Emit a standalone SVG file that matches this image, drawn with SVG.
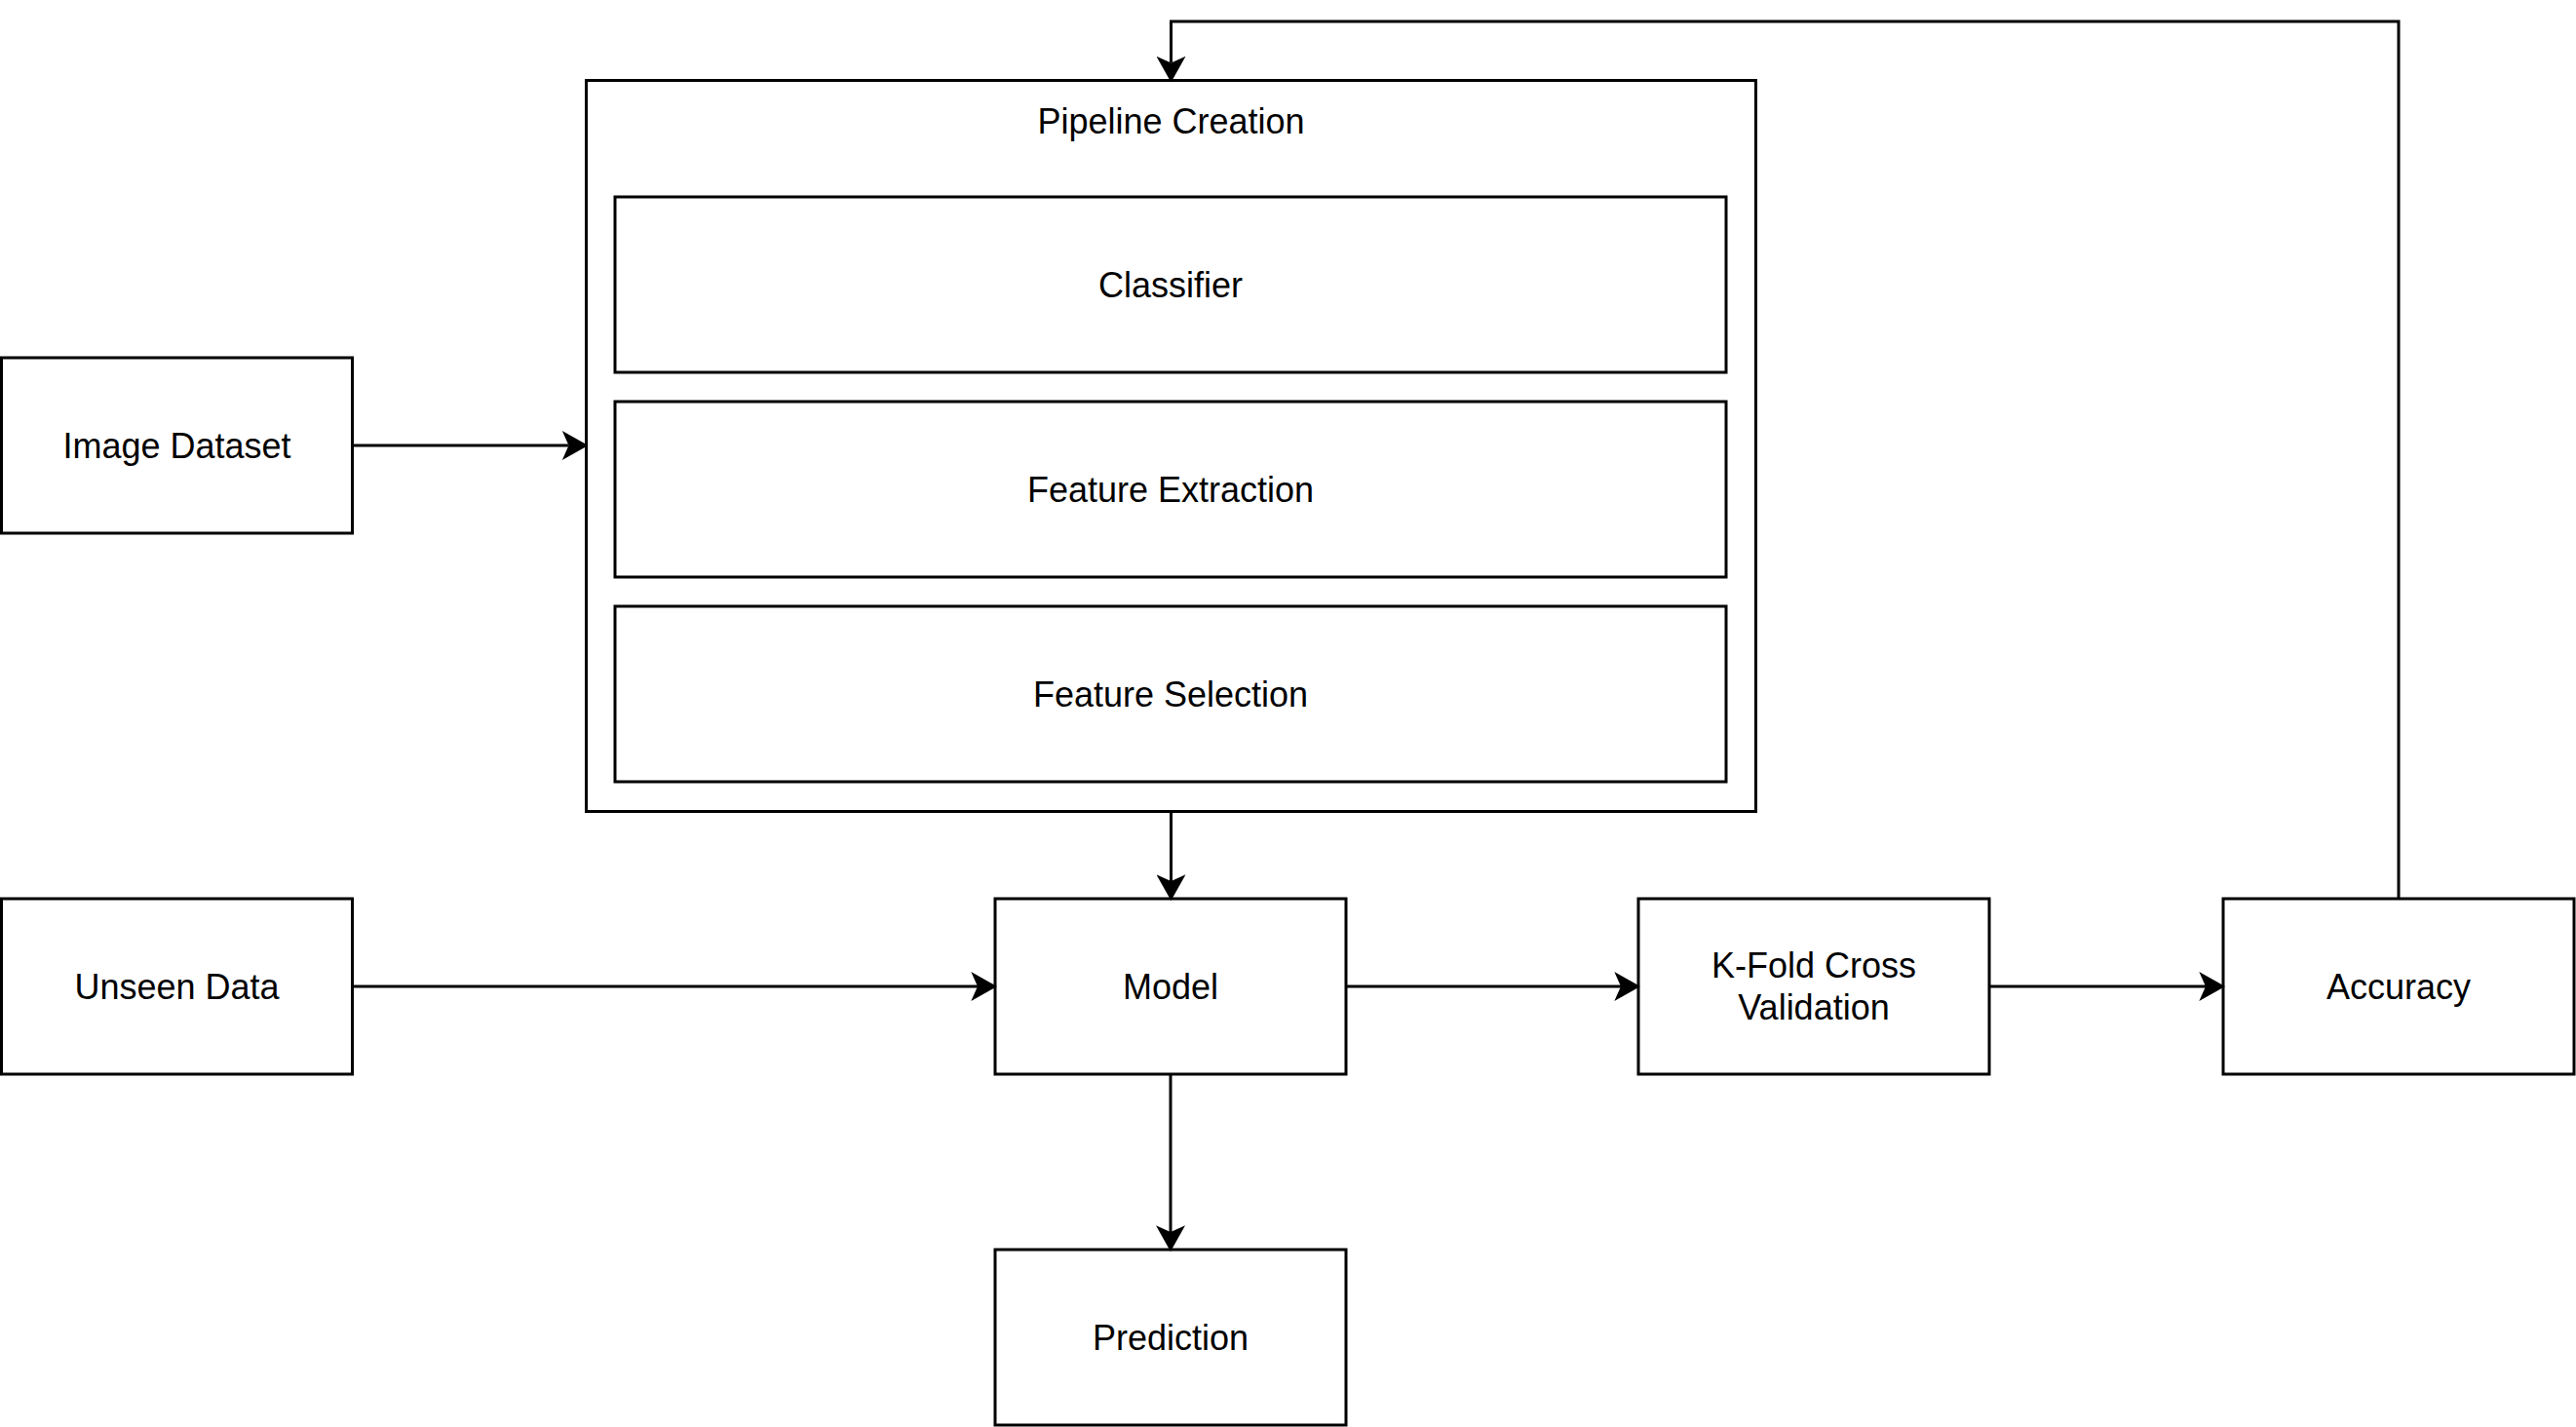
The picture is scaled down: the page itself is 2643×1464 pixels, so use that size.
<svg xmlns="http://www.w3.org/2000/svg" width="2643" height="1464" viewBox="0 0 2643 1464">
<style>
.box{fill:#ffffff;stroke:#000000;stroke-width:3}
.lbl{font-family:"Liberation Sans",Arial,Helvetica,sans-serif;font-size:36px;fill:#000000;text-anchor:middle}
.edge{fill:none;stroke:#000000;stroke-width:3}
</style>
<defs>
<marker id="arr" markerUnits="userSpaceOnUse" markerWidth="30" markerHeight="30" viewBox="0 0 24 27" refX="6" refY="13.5" orient="auto">
<path d="M0,0 L24,13.5 L0,27 L6,13.5 Z" fill="#000000"/>
</marker>
</defs>
<rect width="2643" height="1464" fill="#ffffff"/>
<g id="pipeline">
<rect class="box" x="601.5" y="82.5" width="1200" height="750"/>
<text class="lbl" x="1201.5" y="137">Pipeline Creation</text>
</g>
<g id="classifier">
<rect class="box" x="631" y="202" width="1140" height="180"/>
<text class="lbl" x="1201" y="305">Classifier</text>
</g>
<g id="feature-extraction">
<rect class="box" x="631" y="412" width="1140" height="180"/>
<text class="lbl" x="1201" y="515">Feature Extraction</text>
</g>
<g id="feature-selection">
<rect class="box" x="631" y="622" width="1140" height="180"/>
<text class="lbl" x="1201" y="725">Feature Selection</text>
</g>
<g id="image-dataset">
<rect class="box" x="1.5" y="367" width="360" height="180"/>
<text class="lbl" x="181.5" y="470">Image Dataset</text>
</g>
<g id="unseen-data">
<rect class="box" x="1.5" y="922" width="360" height="180"/>
<text class="lbl" x="181.5" y="1025">Unseen Data</text>
</g>
<g id="model">
<rect class="box" x="1021" y="922" width="360" height="180"/>
<text class="lbl" x="1201" y="1025">Model</text>
</g>
<g id="kfold">
<rect class="box" x="1681" y="922" width="360" height="180"/>
<text class="lbl" x="1861" y="1003">K-Fold Cross</text>
<text class="lbl" x="1861" y="1046">Validation</text>
</g>
<g id="accuracy">
<rect class="box" x="2281" y="922" width="360" height="180"/>
<text class="lbl" x="2461" y="1025">Accuracy</text>
</g>
<g id="prediction">
<rect class="box" x="1021" y="1282" width="360" height="180"/>
<text class="lbl" x="1201" y="1385">Prediction</text>
</g>
<g id="connectors">
<path class="edge" d="M361.5,457 L583.5,457" marker-end="url(#arr)"/>
<path class="edge" d="M1201.5,832.5 L1201.5,904" marker-end="url(#arr)"/>
<path class="edge" d="M361.5,1012 L1003,1012" marker-end="url(#arr)"/>
<path class="edge" d="M1381,1012 L1663,1012" marker-end="url(#arr)"/>
<path class="edge" d="M2041,1012 L2263,1012" marker-end="url(#arr)"/>
<path class="edge" d="M1201,1102 L1201,1264" marker-end="url(#arr)"/>
<path class="edge" d="M2461,922 L2461,22 L1201.5,22 L1201.5,64.5" marker-end="url(#arr)"/>
</g>
</svg>
